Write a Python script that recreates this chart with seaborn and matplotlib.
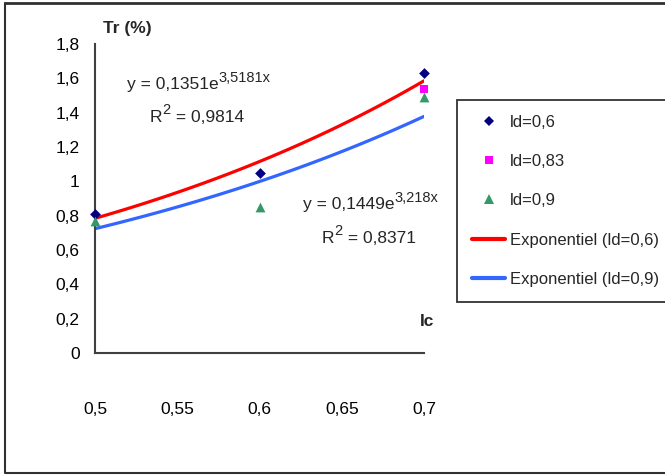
import numpy as np
import pandas as pd
import matplotlib
matplotlib.use("Agg")
import matplotlib.pyplot as plt
import seaborn as sns
from matplotlib.lines import Line2D

# data
ic = [0.5, 0.6, 0.7]
tr_ld_06 = [0.81, 1.05, 1.63]
ic_ld_083 = [0.7]
tr_ld_083 = [1.54]
tr_ld_09 = [0.77, 0.85, 1.49]

# exponential trendlines y = a * exp(b * x), as printed on the chart
fit_ld_06 = {"a": 0.1351, "b": 3.5181, "r2": "0,9814", "txt_a": "0,1351", "txt_b": "3,5181x"}
fit_ld_09 = {"a": 0.1449, "b": 3.218, "r2": "0,8371", "txt_a": "0,1449", "txt_b": "3,218x"}

x_ticks = [0.5, 0.55, 0.6, 0.65, 0.7]
x_labels = ["0,5", "0,55", "0,6", "0,65", "0,7"]
y_ticks = [0, 0.2, 0.4, 0.6, 0.8, 1.0, 1.2, 1.4, 1.6, 1.8]
y_labels = ["0", "0,2", "0,4", "0,6", "0,8", "1", "1,2", "1,4", "1,6", "1,8"]

series = ["ld=0,6", "ld=0,83", "ld=0,9"]
colors = {"ld=0,6": "#000080", "ld=0,83": "#FF00FF", "ld=0,9": "#339966"}
markers = {"ld=0,6": "D", "ld=0,83": "s", "ld=0,9": "^"}
sizes = {"ld=0,6": 30, "ld=0,83": 26, "ld=0,9": 50}

sns.set_style("white")
plt.rcParams["font.family"] = ["Liberation Sans Narrow", "Liberation Sans", "DejaVu Sans"]
plt.rcParams["font.size"] = 12

W, H = 665, 475
fig = plt.figure(figsize=(W / 100, H / 100), dpi=100)
ax = fig.add_axes([95 / W, 1 - 353 / H, 329 / W, 309 / H])

points = pd.DataFrame({
    "Ic": ic + ic_ld_083 + ic,
    "Tr": tr_ld_06 + tr_ld_083 + tr_ld_09,
    "serie": [series[0]] * 3 + [series[1]] + [series[2]] * 3,
})

# trendlines
xs = np.linspace(min(ic), max(ic), 60)
for fit, col in [(fit_ld_06, "#FF0000"), (fit_ld_09, "#3366FF")]:
    sns.lineplot(x=xs, y=fit["a"] * np.exp(fit["b"] * xs), color=col,
                 linewidth=2.3, ax=ax, zorder=2)

for s in series:
    sub = points[points["serie"] == s]
    sns.scatterplot(data=sub, x="Ic", y="Tr", color=colors[s], marker=markers[s],
                    s=sizes[s], linewidth=0, ax=ax, zorder=3, clip_on=False,
                    legend=False)

ax.set_xlim(0.5, 0.7)
ax.set_ylim(0, 1.8)
ax.set_xticks(x_ticks, x_labels)
ax.set_yticks(y_ticks, y_labels)
ax.set_xlabel("")
ax.set_ylabel("")
for side in ["top", "right"]:
    ax.spines[side].set_visible(False)
for side in ["left", "bottom"]:
    ax.spines[side].set_color("#404040")
    ax.spines[side].set_linewidth(1.5)
ax.tick_params(axis="both", direction="out", length=5, width=1.2, color="#404040",
               labelsize=12.5, labelcolor="black")
ax.tick_params(axis="x", pad=30)
ax.tick_params(axis="y", pad=6)

# axis titles
fig.text(103 / W, 1 - 28 / H, "Tr (%)", fontsize=12.5, fontweight="bold", va="center")
fig.text(420 / W, 1 - 322 / H, "Ic", fontsize=12.5, fontweight="bold", va="center")

# equations
for fit, (ex, ey), (rx, ry) in [(fit_ld_06, (127, 85), (150, 117)),
                                (fit_ld_09, (303, 205), (322, 238))]:
    t = fig.text(ex / W, 1 - ey / H, "y = " + fit["txt_a"] + "e", fontsize=12.5, va="center")
    ax.annotate(fit["txt_b"], xy=(1, 0.5), xycoords=t, fontsize=10.5, va="bottom", ha="left")
    r = fig.text(rx / W, 1 - ry / H, "R", fontsize=12.5, va="center")
    sup = ax.annotate("2", xy=(1, 0.5), xycoords=r, fontsize=10.5, va="bottom", ha="left")
    ax.annotate(" = " + fit["r2"], xy=(1, 0), xycoords=(sup, r), fontsize=12.5,
                va="bottom", ha="left")

# legend
handles = [Line2D([], [], linestyle="none", marker=markers[s], color=colors[s],
                  markersize=np.sqrt(sizes[s]), markeredgewidth=0) for s in series]
handles += [Line2D([], [], color="#FF0000", lw=3), Line2D([], [], color="#3366FF", lw=3)]
labels = series + ["Exponentiel (ld=0,6)", "Exponentiel (ld=0,9)"]
leg = fig.legend(handles, labels, loc="upper left", bbox_to_anchor=(457 / W, 1 - 100 / H),
                 frameon=True, fancybox=False, fontsize=12, handlelength=2.0,
                 handletextpad=0.3, labelspacing=1.45, borderpad=0.9, borderaxespad=0)
leg.get_frame().set_edgecolor("black")
leg.get_frame().set_linewidth(1.3)

# outer frame (its right edge lies beyond the image)
fig.add_artist(Line2D([5 / W, 5 / W, 1.01], [1 - 3 / H, 1 - 473 / H, 1 - 473 / H],
                      transform=fig.transFigure, color="#303030", linewidth=1.5))
fig.add_artist(Line2D([5 / W, 1.01], [1 - 3 / H, 1 - 3 / H],
                      transform=fig.transFigure, color="#303030", linewidth=2))

fig.savefig("out.png", dpi=100)
